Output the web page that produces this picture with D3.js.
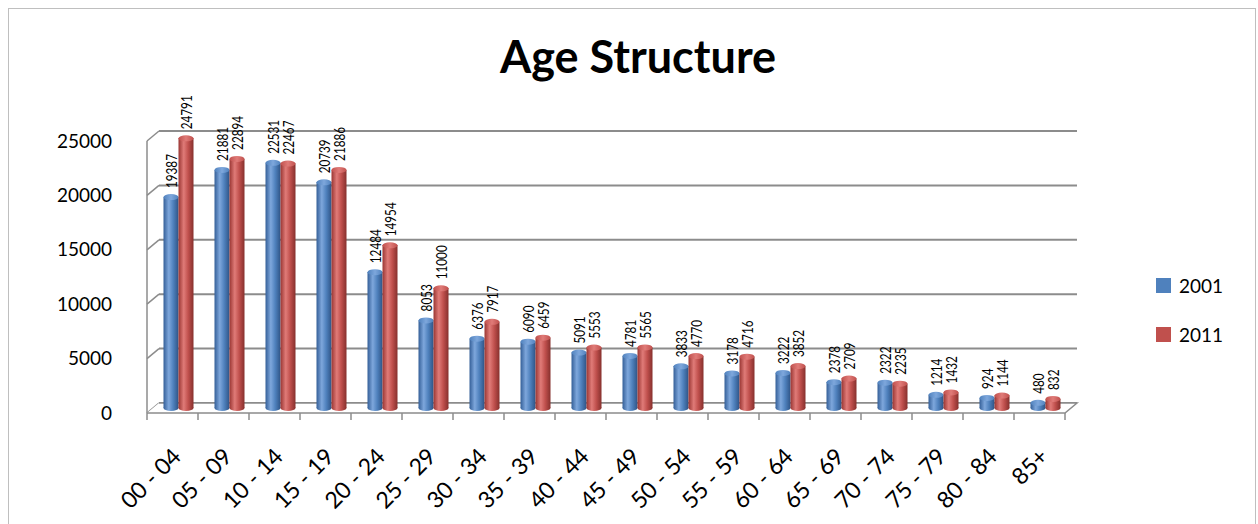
<!DOCTYPE html>
<html>
<head>
<meta charset="utf-8">
<script src="https://cdn.jsdelivr.net/npm/d3@7"></script>
<style>
  html, body { margin: 0; padding: 0; background: #fff; }
  svg { display: block; font-family: Lato, "Open Sans", sans-serif; }
</style>
</head>
<body>
<svg id="chart" width="1258" height="524"></svg>
<script>
// Population by five-year age band, census 2001 vs 2011
const ageGroups = ["00 - 04", "05 - 09", "10 - 14", "15 - 19", "20 - 24", "25 - 29",
  "30 - 34", "35 - 39", "40 - 44", "45 - 49", "50 - 54", "55 - 59",
  "60 - 64", "65 - 69", "70 - 74", "75 - 79", "80 - 84", "85+"];
const years = ["2001", "2011"];
const pop2001 = [19387, 21881, 22531, 20739, 12484, 8053, 6376, 6090, 5091, 4781,
  3833, 3178, 3222, 2378, 2322, 1214, 924, 480];
const pop2011 = [24791, 22894, 22467, 21886, 14954, 11000, 7917, 6459, 5553, 5565,
  4770, 4716, 3852, 2709, 2235, 1432, 1144, 832];
const yTicks = [0, 5000, 10000, 15000, 20000, 25000];

const svg = d3.select("#chart");

// outer frame
svg.append("rect").attr("x", 8.5).attr("y", 8.5).attr("width", 1247).attr("height", 540)
  .attr("fill", "none").attr("stroke", "#bfbfbf").attr("stroke-width", 1);

// title
svg.append("text").attr("x", 638).attr("y", 73).attr("text-anchor", "middle")
  .attr("font-size", 45).attr("font-weight", "bold").attr("fill", "#000")
  .text("Age Structure");

// scales (front plane); depth offset gives the 3-D wall
const x = d3.scaleBand().domain(ageGroups).range([147, 1065]).padding(0);
const y = d3.scaleLinear().domain([0, 25000]).range([413, 141]);
const depthX = 12, depthY = -10;
const inner = d3.scaleBand().domain(years).range([-15, 15]);
const colors = { "2001": ["#345f98", "#7ea7dc", "#4f81bd", "#2f5486"],
                 "2011": ["#9a3633", "#e07b78", "#c0504d", "#86302d"] };

// gradients for cylinder bodies
const defs = svg.append("defs");
years.forEach(yr => {
  const c = colors[yr];
  const g = defs.append("linearGradient").attr("id", "g" + yr)
    .attr("x1", "0%").attr("x2", "100%").attr("y1", "0%").attr("y2", "0%");
  g.append("stop").attr("offset", "0%").attr("stop-color", c[0]);
  g.append("stop").attr("offset", "35%").attr("stop-color", c[1]);
  g.append("stop").attr("offset", "65%").attr("stop-color", c[2]);
  g.append("stop").attr("offset", "100%").attr("stop-color", c[3]);
  const t = defs.append("linearGradient").attr("id", "t" + yr)
    .attr("x1", "0%").attr("x2", "100%").attr("y1", "0%").attr("y2", "0%");
  t.append("stop").attr("offset", "0%").attr("stop-color", c[2]);
  t.append("stop").attr("offset", "50%").attr("stop-color", c[1]);
  t.append("stop").attr("offset", "100%").attr("stop-color", c[2]);
});

const gridColor = "#8c8c8c";
// back-wall gridlines and left-wall connectors
const grid = svg.append("g");
yTicks.forEach(v => {
  grid.append("line")
    .attr("x1", 147 + depthX).attr("x2", 1065 + depthX)
    .attr("y1", y(v) + depthY).attr("y2", y(v) + depthY)
    .attr("stroke", gridColor).attr("stroke-width", 2);
  grid.append("line")
    .attr("x1", 147).attr("x2", 147 + depthX)
    .attr("y1", y(v)).attr("y2", y(v) + depthY)
    .attr("stroke", gridColor).attr("stroke-width", 1.5);
});
// left wall edge
grid.append("line").attr("x1", 147).attr("x2", 147)
  .attr("y1", y(25000)).attr("y2", y(0)).attr("stroke", gridColor).attr("stroke-width", 1.5);
// floor
grid.append("path")
  .attr("d", `M147,${y(0)} L1065,${y(0)} L${1065 + depthX},${y(0) + depthY} L${147 + depthX},${y(0) + depthY}`)
  .attr("fill", "#fff").attr("stroke", gridColor).attr("stroke-width", 1.5);
// category ticks on the front edge
ageGroups.concat([null]).forEach(c => {
  const xx = c === null ? 1065 : x(c);
  grid.append("line").attr("x1", xx).attr("x2", xx)
    .attr("y1", y(0)).attr("y2", y(0) + 7)
    .attr("stroke", gridColor).attr("stroke-width", 1.5);
});

// y-axis labels
svg.append("g").selectAll("text").data(yTicks).join("text")
  .attr("x", 112).attr("y", d => y(d)).attr("dy", "0.35em")
  .attr("text-anchor", "end").attr("font-size", 19).attr("fill", "#000")
  .text(d => d);

// x-axis labels, rotated
svg.append("g").selectAll("text").data(ageGroups).join("text")
  .attr("transform", d => `translate(${x(d) + x.bandwidth() / 2 + 10},458) rotate(-45)`)
  .attr("text-anchor", "end").attr("font-size", 23).attr("fill", "#000")
  .text(d => d);

// cylinders
const rows = ageGroups.map((g, i) => ({ g, v: { "2001": pop2001[i], "2011": pop2011[i] } }));
const bars = svg.append("g");
const bw = inner.bandwidth();
const ry = 3;
rows.forEach(r => {
  years.forEach(yr => {
    const cx = x(r.g) + x.bandwidth() / 2 + depthX / 2 + inner(yr) + bw / 2;
    const base = y(0) + depthY / 2;
    const top = base - (y(0) - y(r.v[yr]));
    const grp = bars.append("g");
    grp.append("ellipse").attr("cx", cx).attr("cy", base).attr("rx", bw / 2).attr("ry", ry)
      .attr("fill", `url(#g${yr})`);
    grp.append("rect").attr("x", cx - bw / 2).attr("y", top).attr("width", bw)
      .attr("height", Math.max(0, base - top)).attr("fill", `url(#g${yr})`);
    grp.append("ellipse").attr("cx", cx).attr("cy", top).attr("rx", bw / 2).attr("ry", ry)
      .attr("fill", `url(#t${yr})`);
    // value label, condensed and rotated
    const s = String(r.v[yr]);
    grp.append("text")
      .attr("transform", `translate(${cx + 5.5},${top - 9}) rotate(-90)`)
      .attr("text-anchor", "start").attr("font-size", 16).attr("fill", "#000")
      .attr("textLength", s.length * 6.8).attr("lengthAdjust", "spacingAndGlyphs")
      .text(s);
  });
});

// legend
const legend = svg.append("g");
years.forEach((yr, i) => {
  const ly = 286 + i * 49;
  legend.append("rect").attr("x", 1156).attr("y", ly - 8).attr("width", 15).attr("height", 15)
    .attr("fill", colors[yr][2]);
  legend.append("text").attr("x", 1179).attr("y", ly).attr("dy", "0.35em")
    .attr("font-size", 19).attr("fill", "#000").text(yr);
});
</script>
</body>
</html>
